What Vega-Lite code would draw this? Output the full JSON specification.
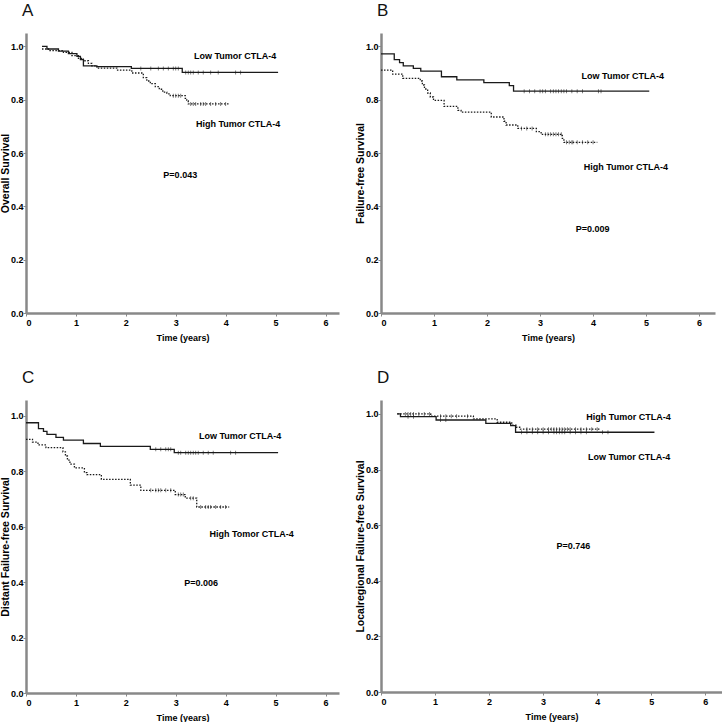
{
  "$schema": "https://vega.github.io/schema/vega-lite/v6.json",
  "background": "white",
  "padding": {"left": 0, "top": 2, "right": 0, "bottom": 0},
  "datasets": {
    "km": [
      {"p":"A","g":"Low","t":0.32,"s":1.0},{"p":"A","g":"Low","t":0.42,"s":0.99},{"p":"A","g":"Low","t":0.65,"s":0.982},{"p":"A","g":"Low","t":0.85,"s":0.973},{"p":"A","g":"Low","t":1.02,"s":0.962},{"p":"A","g":"Low","t":1.09,"s":0.95},{"p":"A","g":"Low","t":1.15,"s":0.927},{"p":"A","g":"Low","t":1.42,"s":0.924},{"p":"A","g":"Low","t":2.11,"s":0.917},{"p":"A","g":"Low","t":3.13,"s":0.902},{"p":"A","g":"Low","t":5.05,"s":0.902},
      {"p":"A","g":"High","t":0.32,"s":0.99},{"p":"A","g":"High","t":0.45,"s":0.984},{"p":"A","g":"High","t":0.75,"s":0.977},{"p":"A","g":"High","t":0.92,"s":0.965},{"p":"A","g":"High","t":1.05,"s":0.955},{"p":"A","g":"High","t":1.15,"s":0.946},{"p":"A","g":"High","t":1.25,"s":0.936},{"p":"A","g":"High","t":1.32,"s":0.927},{"p":"A","g":"High","t":1.42,"s":0.918},{"p":"A","g":"High","t":1.82,"s":0.911},{"p":"A","g":"High","t":2.12,"s":0.9},{"p":"A","g":"High","t":2.35,"s":0.883},{"p":"A","g":"High","t":2.42,"s":0.87},{"p":"A","g":"High","t":2.49,"s":0.86},{"p":"A","g":"High","t":2.59,"s":0.849},{"p":"A","g":"High","t":2.67,"s":0.839},{"p":"A","g":"High","t":2.74,"s":0.828},{"p":"A","g":"High","t":2.82,"s":0.822},{"p":"A","g":"High","t":2.89,"s":0.815},{"p":"A","g":"High","t":3.19,"s":0.805},{"p":"A","g":"High","t":3.22,"s":0.795},{"p":"A","g":"High","t":3.25,"s":0.784},{"p":"A","g":"High","t":4.07,"s":0.784},
      {"p":"B","g":"Low","t":0,"s":0.972},{"p":"B","g":"Low","t":0.25,"s":0.95},{"p":"B","g":"Low","t":0.35,"s":0.939},{"p":"B","g":"Low","t":0.42,"s":0.927},{"p":"B","g":"Low","t":0.61,"s":0.917},{"p":"B","g":"Low","t":0.75,"s":0.907},{"p":"B","g":"Low","t":1.14,"s":0.886},{"p":"B","g":"Low","t":1.43,"s":0.874},{"p":"B","g":"Low","t":1.94,"s":0.864},{"p":"B","g":"Low","t":2.42,"s":0.853},{"p":"B","g":"Low","t":2.5,"s":0.832},{"p":"B","g":"Low","t":5.06,"s":0.832},
      {"p":"B","g":"High","t":0,"s":0.911},{"p":"B","g":"High","t":0.22,"s":0.896},{"p":"B","g":"High","t":0.41,"s":0.88},{"p":"B","g":"High","t":0.74,"s":0.87},{"p":"B","g":"High","t":0.78,"s":0.855},{"p":"B","g":"High","t":0.82,"s":0.84},{"p":"B","g":"High","t":0.88,"s":0.825},{"p":"B","g":"High","t":0.93,"s":0.81},{"p":"B","g":"High","t":0.99,"s":0.797},{"p":"B","g":"High","t":1.19,"s":0.775},{"p":"B","g":"High","t":1.45,"s":0.76},{"p":"B","g":"High","t":1.51,"s":0.753},{"p":"B","g":"High","t":2.08,"s":0.735},{"p":"B","g":"High","t":2.32,"s":0.719},{"p":"B","g":"High","t":2.36,"s":0.705},{"p":"B","g":"High","t":2.58,"s":0.692},{"p":"B","g":"High","t":2.93,"s":0.68},{"p":"B","g":"High","t":3.02,"s":0.67},{"p":"B","g":"High","t":3.42,"s":0.655},{"p":"B","g":"High","t":3.45,"s":0.64},{"p":"B","g":"High","t":4.08,"s":0.64},
      {"p":"C","g":"Low","t":0,"s":0.975},{"p":"C","g":"Low","t":0.25,"s":0.954},{"p":"C","g":"Low","t":0.35,"s":0.944},{"p":"C","g":"Low","t":0.42,"s":0.933},{"p":"C","g":"Low","t":0.6,"s":0.922},{"p":"C","g":"Low","t":0.75,"s":0.912},{"p":"C","g":"Low","t":1.15,"s":0.9},{"p":"C","g":"Low","t":1.49,"s":0.89},{"p":"C","g":"Low","t":2.49,"s":0.879},{"p":"C","g":"Low","t":2.97,"s":0.867},{"p":"C","g":"Low","t":5.05,"s":0.867},
      {"p":"C","g":"High","t":0,"s":0.915},{"p":"C","g":"High","t":0.13,"s":0.905},{"p":"C","g":"High","t":0.24,"s":0.895},{"p":"C","g":"High","t":0.4,"s":0.885},{"p":"C","g":"High","t":0.74,"s":0.87},{"p":"C","g":"High","t":0.79,"s":0.855},{"p":"C","g":"High","t":0.83,"s":0.84},{"p":"C","g":"High","t":0.88,"s":0.826},{"p":"C","g":"High","t":0.97,"s":0.812},{"p":"C","g":"High","t":1.17,"s":0.795},{"p":"C","g":"High","t":1.22,"s":0.788},{"p":"C","g":"High","t":1.51,"s":0.771},{"p":"C","g":"High","t":2.09,"s":0.75},{"p":"C","g":"High","t":2.3,"s":0.731},{"p":"C","g":"High","t":2.99,"s":0.716},{"p":"C","g":"High","t":3.19,"s":0.703},{"p":"C","g":"High","t":3.42,"s":0.671},{"p":"C","g":"High","t":4.07,"s":0.671},
      {"p":"D","g":"Low","t":0.3,"s":1.0},{"p":"D","g":"Low","t":0.36,"s":0.99},{"p":"D","g":"Low","t":1.02,"s":0.978},{"p":"D","g":"Low","t":1.94,"s":0.966},{"p":"D","g":"Low","t":2.4,"s":0.958},{"p":"D","g":"Low","t":2.49,"s":0.934},{"p":"D","g":"Low","t":5.06,"s":0.934},
      {"p":"D","g":"High","t":0.3,"s":1.0},{"p":"D","g":"High","t":0.92,"s":0.992},{"p":"D","g":"High","t":1.71,"s":0.982},{"p":"D","g":"High","t":2.15,"s":0.97},{"p":"D","g":"High","t":2.42,"s":0.96},{"p":"D","g":"High","t":2.51,"s":0.952},{"p":"D","g":"High","t":2.58,"s":0.945},{"p":"D","g":"High","t":4.07,"s":0.945}
    ],
    "cens": [
      {"p":"A","t":2.3,"s":0.917},{"p":"A","t":2.5,"s":0.917},{"p":"A","t":2.65,"s":0.917},{"p":"A","t":2.75,"s":0.917},{"p":"A","t":2.85,"s":0.917},{"p":"A","t":2.95,"s":0.917},{"p":"A","t":3.0,"s":0.917},{"p":"A","t":3.05,"s":0.917},
      {"p":"A","t":3.2,"s":0.902},{"p":"A","t":3.25,"s":0.902},{"p":"A","t":3.3,"s":0.902},{"p":"A","t":3.35,"s":0.902},{"p":"A","t":3.45,"s":0.902},{"p":"A","t":3.55,"s":0.902},{"p":"A","t":3.7,"s":0.902},{"p":"A","t":3.85,"s":0.902},{"p":"A","t":4.2,"s":0.902},{"p":"A","t":4.3,"s":0.902},
      {"p":"A","t":2.95,"s":0.815},{"p":"A","t":3.0,"s":0.815},{"p":"A","t":3.05,"s":0.815},{"p":"A","t":3.1,"s":0.815},
      {"p":"A","t":3.3,"s":0.784},{"p":"A","t":3.35,"s":0.784},{"p":"A","t":3.4,"s":0.784},{"p":"A","t":3.5,"s":0.784},{"p":"A","t":3.55,"s":0.784},{"p":"A","t":3.6,"s":0.784},{"p":"A","t":3.7,"s":0.784},{"p":"A","t":3.8,"s":0.784},{"p":"A","t":3.9,"s":0.784},{"p":"A","t":4.0,"s":0.784},
      {"p":"B","t":2.7,"s":0.832},{"p":"B","t":2.8,"s":0.832},{"p":"B","t":2.9,"s":0.832},{"p":"B","t":3.0,"s":0.832},{"p":"B","t":3.05,"s":0.832},{"p":"B","t":3.1,"s":0.832},{"p":"B","t":3.2,"s":0.832},{"p":"B","t":3.25,"s":0.832},{"p":"B","t":3.3,"s":0.832},{"p":"B","t":3.35,"s":0.832},{"p":"B","t":3.4,"s":0.832},{"p":"B","t":3.45,"s":0.832},{"p":"B","t":3.5,"s":0.832},{"p":"B","t":3.6,"s":0.832},{"p":"B","t":3.7,"s":0.832},{"p":"B","t":3.8,"s":0.832},{"p":"B","t":4.1,"s":0.832},{"p":"B","t":4.15,"s":0.832},
      {"p":"B","t":2.65,"s":0.692},{"p":"B","t":2.75,"s":0.692},{"p":"B","t":2.85,"s":0.692},{"p":"B","t":3.1,"s":0.67},{"p":"B","t":3.15,"s":0.67},{"p":"B","t":3.2,"s":0.67},{"p":"B","t":3.25,"s":0.67},{"p":"B","t":3.3,"s":0.67},{"p":"B","t":3.35,"s":0.67},{"p":"B","t":3.4,"s":0.67},
      {"p":"B","t":3.5,"s":0.64},{"p":"B","t":3.55,"s":0.64},{"p":"B","t":3.6,"s":0.64},{"p":"B","t":3.62,"s":0.64},{"p":"B","t":3.7,"s":0.64},{"p":"B","t":3.8,"s":0.64},{"p":"B","t":3.9,"s":0.64},{"p":"B","t":4.0,"s":0.64},
      {"p":"C","t":2.6,"s":0.879},{"p":"C","t":2.7,"s":0.879},{"p":"C","t":2.8,"s":0.879},{"p":"C","t":2.85,"s":0.879},{"p":"C","t":2.9,"s":0.879},
      {"p":"C","t":3.05,"s":0.867},{"p":"C","t":3.1,"s":0.867},{"p":"C","t":3.2,"s":0.867},{"p":"C","t":3.25,"s":0.867},{"p":"C","t":3.3,"s":0.867},{"p":"C","t":3.35,"s":0.867},{"p":"C","t":3.4,"s":0.867},{"p":"C","t":3.45,"s":0.867},{"p":"C","t":3.55,"s":0.867},{"p":"C","t":3.65,"s":0.867},{"p":"C","t":3.75,"s":0.867},{"p":"C","t":4.1,"s":0.867},{"p":"C","t":4.2,"s":0.867},
      {"p":"C","t":2.5,"s":0.731},{"p":"C","t":2.6,"s":0.731},{"p":"C","t":2.65,"s":0.731},{"p":"C","t":2.7,"s":0.731},{"p":"C","t":2.8,"s":0.731},{"p":"C","t":2.9,"s":0.731},{"p":"C","t":3.05,"s":0.716},{"p":"C","t":3.1,"s":0.716},{"p":"C","t":3.15,"s":0.716},{"p":"C","t":3.3,"s":0.703},{"p":"C","t":3.35,"s":0.703},
      {"p":"C","t":3.5,"s":0.671},{"p":"C","t":3.6,"s":0.671},{"p":"C","t":3.65,"s":0.671},{"p":"C","t":3.7,"s":0.671},{"p":"C","t":3.8,"s":0.671},{"p":"C","t":3.9,"s":0.671},{"p":"C","t":4.0,"s":0.671},
      {"p":"D","t":0.45,"s":1.0},{"p":"D","t":0.5,"s":1.0},{"p":"D","t":0.55,"s":1.0},{"p":"D","t":0.6,"s":1.0},{"p":"D","t":0.7,"s":1.0},{"p":"D","t":0.8,"s":1.0},{"p":"D","t":0.9,"s":1.0},
      {"p":"D","t":1.1,"s":0.992},{"p":"D","t":1.2,"s":0.992},{"p":"D","t":1.3,"s":0.992},{"p":"D","t":1.4,"s":0.992},{"p":"D","t":1.6,"s":0.992},
      {"p":"D","t":2.7,"s":0.945},{"p":"D","t":2.8,"s":0.945},{"p":"D","t":2.9,"s":0.945},{"p":"D","t":3.0,"s":0.945},{"p":"D","t":3.1,"s":0.945},{"p":"D","t":3.15,"s":0.945},{"p":"D","t":3.2,"s":0.945},{"p":"D","t":3.25,"s":0.945},{"p":"D","t":3.3,"s":0.945},{"p":"D","t":3.35,"s":0.945},{"p":"D","t":3.4,"s":0.945},{"p":"D","t":3.45,"s":0.945},{"p":"D","t":3.5,"s":0.945},{"p":"D","t":3.6,"s":0.945},{"p":"D","t":3.7,"s":0.945},{"p":"D","t":3.8,"s":0.945},{"p":"D","t":3.9,"s":0.945},{"p":"D","t":4.0,"s":0.945},
      {"p":"D","t":0.5,"s":0.99},{"p":"D","t":0.6,"s":0.99},{"p":"D","t":1.1,"s":0.978},{"p":"D","t":1.2,"s":0.978},
      {"p":"D","t":2.6,"s":0.934},{"p":"D","t":2.7,"s":0.934},{"p":"D","t":2.8,"s":0.934},{"p":"D","t":2.9,"s":0.934},{"p":"D","t":3.0,"s":0.934},{"p":"D","t":3.1,"s":0.934},{"p":"D","t":3.2,"s":0.934},{"p":"D","t":3.25,"s":0.934},{"p":"D","t":3.3,"s":0.934},{"p":"D","t":3.35,"s":0.934},{"p":"D","t":3.4,"s":0.934},{"p":"D","t":3.5,"s":0.934},{"p":"D","t":3.6,"s":0.934},{"p":"D","t":3.7,"s":0.934},{"p":"D","t":3.8,"s":0.934},{"p":"D","t":4.1,"s":0.934},{"p":"D","t":4.2,"s":0.934}
    ],
    "lab": [
      {"p":"A","txt":"Low Tumor CTLA-4","t":4.19,"s":0.965},
      {"p":"A","txt":"High Tumor CTLA-4","t":4.25,"s":0.707},
      {"p":"A","txt":"P=0.043","t":3.09,"s":0.518},
      {"p":"B","txt":"Low Tumor CTLA-4","t":4.56,"s":0.89},
      {"p":"B","txt":"High Tumor CTLA-4","t":4.62,"s":0.546},
      {"p":"B","txt":"P=0.009","t":3.99,"s":0.316},
      {"p":"C","txt":"Low Tumor CTLA-4","t":4.29,"s":0.926},
      {"p":"C","txt":"High Tomor CTLA-4","t":4.52,"s":0.574},
      {"p":"C","txt":"P=0.006","t":3.51,"s":0.396},
      {"p":"D","txt":"High Tumor CTLA-4","t":4.58,"s":0.989},
      {"p":"D","txt":"Low Tumor CTLA-4","t":4.59,"s":0.845},
      {"p":"D","txt":"P=0.746","t":3.56,"s":0.526}
    ]
  },
  "spacing": 27,
  "vconcat": [
    {
      "spacing": 16,
      "hconcat": [
        {
          "width": 313, "height": 280,
          "title": {"text": "A"},
          "encoding": {
            "x": {"field": "t", "type": "quantitative", "scale": {"domain": [0, 6.27], "nice": false}, "axis": {"values": [0,1,2,3,4,5,6], "title": "Time (years)"}},
            "y": {"field": "s", "type": "quantitative", "scale": {"domain": [0, 1.05], "nice": false}, "axis": {"values": [0,0.2,0.4,0.6,0.8,1.0], "format": ".1f", "title": "Overall Survival"}}
          },
          "layer": [
            {"data": {"name": "km"}, "transform": [{"filter": "datum.p === 'A'"}], "mark": {"type": "line", "interpolate": "step-after", "color": "#1a1a1a", "strokeWidth": 1.3}, "encoding": {"detail": {"field": "g"}, "strokeDash": {"field": "g", "type": "nominal", "scale": {"domain": ["Low", "High"], "range": [[1, 0], [1.5, 1.5]]}, "legend": null}}},
            {"data": {"name": "cens"}, "transform": [{"filter": "datum.p === 'A'"}], "mark": {"type": "tick", "orient": "vertical", "size": 4, "thickness": 0.8, "color": "#1a1a1a"}},
            {"data": {"name": "lab"}, "transform": [{"filter": "datum.p === 'A'"}], "mark": {"type": "text", "font": "Liberation Sans", "fontWeight": "bold", "fontSize": 9, "color": "#000"}, "encoding": {"text": {"field": "txt"}}}
          ]
        },
        {
          "width": 334, "height": 280,
          "title": {"text": "B"},
          "encoding": {
            "x": {"field": "t", "type": "quantitative", "scale": {"domain": [0, 6.3], "nice": false}, "axis": {"values": [0,1,2,3,4,5,6], "title": "Time (years)"}},
            "y": {"field": "s", "type": "quantitative", "scale": {"domain": [0, 1.05], "nice": false}, "axis": {"values": [0,0.2,0.4,0.6,0.8,1.0], "format": ".1f", "title": "Failure-free Survival"}}
          },
          "layer": [
            {"data": {"name": "km"}, "transform": [{"filter": "datum.p === 'B'"}], "mark": {"type": "line", "interpolate": "step-after", "color": "#1a1a1a", "strokeWidth": 1.3}, "encoding": {"detail": {"field": "g"}, "strokeDash": {"field": "g", "type": "nominal", "scale": {"domain": ["Low", "High"], "range": [[1, 0], [1.5, 1.5]]}, "legend": null}}},
            {"data": {"name": "cens"}, "transform": [{"filter": "datum.p === 'B'"}], "mark": {"type": "tick", "orient": "vertical", "size": 4, "thickness": 0.8, "color": "#1a1a1a"}},
            {"data": {"name": "lab"}, "transform": [{"filter": "datum.p === 'B'"}], "mark": {"type": "text", "font": "Liberation Sans", "fontWeight": "bold", "fontSize": 9, "color": "#000"}, "encoding": {"text": {"field": "txt"}}}
          ]
        }
      ]
    },
    {
      "spacing": 16,
      "hconcat": [
        {
          "width": 313, "height": 293,
          "title": {"text": "C"},
          "encoding": {
            "x": {"field": "t", "type": "quantitative", "scale": {"domain": [0, 6.27], "nice": false}, "axis": {"values": [0,1,2,3,4,5,6], "title": "Time (years)"}},
            "y": {"field": "s", "type": "quantitative", "scale": {"domain": [0, 1.057], "nice": false}, "axis": {"values": [0,0.2,0.4,0.6,0.8,1.0], "format": ".1f", "title": "Distant Failure-free Survival"}}
          },
          "layer": [
            {"data": {"name": "km"}, "transform": [{"filter": "datum.p === 'C'"}], "mark": {"type": "line", "interpolate": "step-after", "color": "#1a1a1a", "strokeWidth": 1.3}, "encoding": {"detail": {"field": "g"}, "strokeDash": {"field": "g", "type": "nominal", "scale": {"domain": ["Low", "High"], "range": [[1, 0], [1.5, 1.5]]}, "legend": null}}},
            {"data": {"name": "cens"}, "transform": [{"filter": "datum.p === 'C'"}], "mark": {"type": "tick", "orient": "vertical", "size": 4, "thickness": 0.8, "color": "#1a1a1a"}},
            {"data": {"name": "lab"}, "transform": [{"filter": "datum.p === 'C'"}], "mark": {"type": "text", "font": "Liberation Sans", "fontWeight": "bold", "fontSize": 9, "color": "#000"}, "encoding": {"text": {"field": "txt"}}}
          ]
        },
        {
          "width": 341, "height": 292,
          "title": {"text": "D"},
          "encoding": {
            "x": {"field": "t", "type": "quantitative", "scale": {"domain": [0, 6.31], "nice": false}, "axis": {"values": [0,1,2,3,4,5,6], "title": "Time (years)"}},
            "y": {"field": "s", "type": "quantitative", "scale": {"domain": [0, 1.05], "nice": false}, "axis": {"values": [0,0.2,0.4,0.6,0.8,1.0], "format": ".1f", "title": "Localregional Failure-free Survival"}}
          },
          "layer": [
            {"data": {"name": "km"}, "transform": [{"filter": "datum.p === 'D'"}], "mark": {"type": "line", "interpolate": "step-after", "color": "#1a1a1a", "strokeWidth": 1.3}, "encoding": {"detail": {"field": "g"}, "strokeDash": {"field": "g", "type": "nominal", "scale": {"domain": ["Low", "High"], "range": [[1, 0], [1.5, 1.5]]}, "legend": null}}},
            {"data": {"name": "cens"}, "transform": [{"filter": "datum.p === 'D'"}], "mark": {"type": "tick", "orient": "vertical", "size": 4, "thickness": 0.8, "color": "#1a1a1a"}},
            {"data": {"name": "lab"}, "transform": [{"filter": "datum.p === 'D'"}], "mark": {"type": "text", "font": "Liberation Sans", "fontWeight": "bold", "fontSize": 9, "color": "#000"}, "encoding": {"text": {"field": "txt"}}}
          ]
        }
      ]
    }
  ],
  "config": {
    "view": {"stroke": null},
    "title": {"anchor": "start", "frame": "group", "font": "Liberation Sans", "fontSize": 17, "fontWeight": "normal", "color": "#111", "dx": -4, "offset": 13},
    "axis": {
      "grid": false,
      "domainColor": "#888", "domainWidth": 2.5,
      "tickColor": "#888", "tickSize": 3, "tickWidth": 1,
      "labelFont": "Liberation Sans", "labelFontWeight": "bold", "labelFontSize": 9, "labelColor": "#000", "labelPadding": 1,
      "titleFont": "Liberation Sans", "titleFontWeight": "bold", "titleColor": "#000"
    },
    "axisX": {"titlePadding": 6, "labelPadding": 2, "titleFontSize": 9},
    "axisY": {"titlePadding": 0, "labelPadding": 0, "titleFontSize": 10.5}
  }
}
